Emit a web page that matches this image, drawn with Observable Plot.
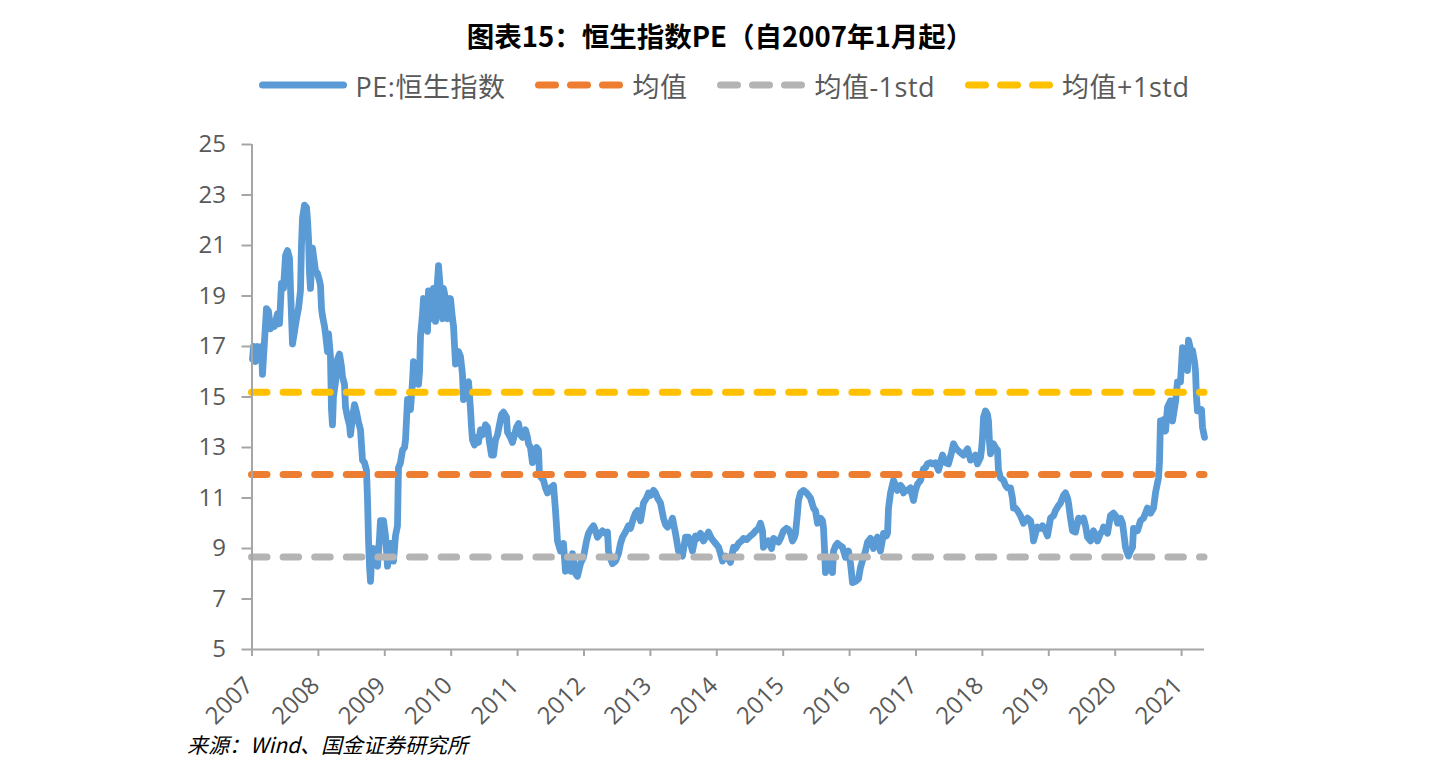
<!DOCTYPE html>
<html>
<head>
<meta charset="utf-8">
<script src="https://cdn.jsdelivr.net/npm/d3@7"></script>
<script src="https://cdn.jsdelivr.net/npm/@observablehq/plot@0.6"></script>
<style>
  html, body { margin: 0; padding: 0; background: #fff; }
  #page { position: relative; width: 1440px; height: 776px; overflow: hidden; }
  #title {
    position: absolute; left: 0; top: 16px; width: 1440px; text-align: center;
    font-family: "Noto Sans CJK SC", sans-serif; font-weight: 700; font-size: 27.5px;
    line-height: 38px; color: #000;
  }
  #legend {
    position: absolute; left: 0; top: 68px; width: 1440px; height: 34px; padding-left: 8px; box-sizing: border-box;
    display: flex; justify-content: center; align-items: center; gap: 30px;
    font-family: "Open Sans", "Noto Sans CJK SC", sans-serif; font-size: 27px; letter-spacing: 0.5px; color: #595959;
  }
  #legend .item { display: flex; align-items: center; gap: 9px; }
  #legend svg { display: block; }
  #chart { position: absolute; left: 0; top: 110px; }
  #caption {
    position: absolute; left: 187px; top: 730px;
    font-family: "Noto Sans CJK SC", sans-serif; font-style: italic; font-size: 21px; line-height: 28px; color: #000;
  }
</style>
</head>
<body>
<div id="page">
  <div id="title">图表15：恒生指数PE（自2007年1月起）</div>
  <div id="legend"></div>
  <div id="chart"></div>
  <div id="caption">来源：Wind、国金证券研究所</div>
</div>
<script>
// Hang Seng Index PE, sampled along the series (time as decimal year)
const years = [
  2007.008, 2007.023, 2007.053, 2007.083, 2007.113, 2007.143, 2007.158, 2007.188, 2007.218, 2007.248,
  2007.279, 2007.309, 2007.339, 2007.384, 2007.414, 2007.444, 2007.474, 2007.505, 2007.535, 2007.565,
  2007.580, 2007.610, 2007.640, 2007.670, 2007.700, 2007.730, 2007.745, 2007.761, 2007.791, 2007.821,
  2007.836, 2007.851, 2007.866, 2007.881, 2007.911, 2007.926, 2007.956, 2007.986,
  2008.017, 2008.032, 2008.047, 2008.062, 2008.092, 2008.107, 2008.137, 2008.152, 2008.182, 2008.197,
  2008.212, 2008.227, 2008.258, 2008.288, 2008.318, 2008.348, 2008.363, 2008.393, 2008.408, 2008.438,
  2008.468, 2008.483, 2008.514, 2008.544, 2008.574, 2008.604, 2008.634, 2008.664, 2008.694, 2008.724,
  2008.739, 2008.755, 2008.770, 2008.785, 2008.800, 2008.830, 2008.860, 2008.890, 2008.920, 2008.935,
  2008.980,
  2009.011, 2009.041, 2009.071, 2009.086, 2009.116, 2009.131, 2009.161, 2009.191, 2009.206, 2009.236,
  2009.267, 2009.297, 2009.312, 2009.342, 2009.372, 2009.387, 2009.417, 2009.432, 2009.462, 2009.477,
  2009.508, 2009.523, 2009.538, 2009.568, 2009.583, 2009.613, 2009.643, 2009.658, 2009.688, 2009.718,
  2009.733, 2009.764, 2009.779, 2009.809, 2009.839, 2009.869, 2009.884, 2009.914, 2009.944, 2009.974,
  2009.989,
  2010.020, 2010.035, 2010.065, 2010.095, 2010.110, 2010.140, 2010.170, 2010.185, 2010.215, 2010.261,
  2010.291, 2010.306, 2010.321, 2010.351, 2010.381, 2010.411, 2010.441, 2010.471, 2010.517, 2010.547,
  2010.577, 2010.607, 2010.637, 2010.667, 2010.697, 2010.727, 2010.758, 2010.788, 2010.833, 2010.848,
  2010.893, 2010.923, 2010.953, 2010.983,
  2011.014, 2011.044, 2011.074, 2011.119, 2011.149, 2011.164, 2011.194, 2011.224, 2011.255, 2011.285,
  2011.315, 2011.330, 2011.360, 2011.390, 2011.420, 2011.450, 2011.495, 2011.541, 2011.571, 2011.601,
  2011.646, 2011.691, 2011.721, 2011.767, 2011.797, 2011.827, 2011.872, 2011.902, 2011.947, 2011.992,
  2012.038, 2012.068, 2012.113, 2012.143, 2012.173, 2012.203, 2012.248, 2012.279, 2012.324, 2012.354,
  2012.369, 2012.399, 2012.429, 2012.474, 2012.520, 2012.550, 2012.580, 2012.625, 2012.670, 2012.700,
  2012.745, 2012.776, 2012.806, 2012.851, 2012.896, 2012.941, 2012.971,
  2013.002, 2013.047, 2013.077, 2013.107, 2013.152, 2013.197, 2013.227, 2013.258, 2013.303, 2013.333,
  2013.378, 2013.423, 2013.453, 2013.483, 2013.529, 2013.574, 2013.604, 2013.634, 2013.679, 2013.709,
  2013.755, 2013.800, 2013.845, 2013.875, 2013.920, 2013.950, 2013.980,
  2014.026, 2014.056, 2014.086, 2014.131, 2014.161, 2014.206, 2014.252, 2014.282, 2014.327, 2014.372,
  2014.402, 2014.447, 2014.508, 2014.553, 2014.583, 2014.628, 2014.658, 2014.688, 2014.703, 2014.749,
  2014.779, 2014.824, 2014.854, 2014.899, 2014.929, 2014.959,
  2015.005, 2015.050, 2015.080, 2015.110, 2015.140, 2015.170, 2015.185, 2015.215, 2015.230, 2015.261,
  2015.306, 2015.351, 2015.381, 2015.411, 2015.456, 2015.486, 2015.517, 2015.562, 2015.592, 2015.607,
  2015.622, 2015.637, 2015.682, 2015.712, 2015.742, 2015.758, 2015.788, 2015.818, 2015.863, 2015.893,
  2015.938, 2015.983,
  2016.014, 2016.044, 2016.089, 2016.134, 2016.164, 2016.209, 2016.239, 2016.270, 2016.315, 2016.360,
  2016.390, 2016.420, 2016.465, 2016.511, 2016.556, 2016.571, 2016.586, 2016.616, 2016.661, 2016.691,
  2016.721, 2016.767, 2016.797, 2016.812, 2016.842, 2016.872, 2016.917, 2016.962, 2016.992,
  2017.023, 2017.068, 2017.113, 2017.143, 2017.173, 2017.218, 2017.248, 2017.294, 2017.339, 2017.369,
  2017.399, 2017.444, 2017.489, 2017.535, 2017.565, 2017.595, 2017.625, 2017.670, 2017.715, 2017.776,
  2017.821, 2017.866, 2017.896, 2017.926, 2017.971, 2017.986,
  2018.002, 2018.017, 2018.047, 2018.077, 2018.092, 2018.107, 2018.122, 2018.167, 2018.197, 2018.227,
  2018.242, 2018.273, 2018.318, 2018.348, 2018.378, 2018.423, 2018.453, 2018.468, 2018.498, 2018.529,
  2018.574, 2018.619, 2018.649, 2018.679, 2018.724, 2018.755, 2018.770, 2018.800, 2018.830, 2018.875,
  2018.905, 2018.950, 2018.980,
  2019.026, 2019.071, 2019.101, 2019.146, 2019.176, 2019.221, 2019.252, 2019.282, 2019.297, 2019.327,
  2019.357, 2019.402, 2019.432, 2019.447, 2019.492, 2019.523, 2019.553, 2019.583, 2019.628, 2019.673,
  2019.703, 2019.733, 2019.779, 2019.809, 2019.824, 2019.854, 2019.884, 2019.929, 2019.974,
  2020.005, 2020.035, 2020.080, 2020.110, 2020.125, 2020.155, 2020.185, 2020.200, 2020.230, 2020.261,
  2020.276, 2020.306, 2020.336, 2020.381, 2020.426, 2020.456, 2020.486, 2020.532, 2020.577, 2020.607,
  2020.652, 2020.667, 2020.682, 2020.712, 2020.727, 2020.758, 2020.788, 2020.833, 2020.863, 2020.908,
  2020.938, 2020.983,
  2021.014, 2021.044, 2021.074, 2021.089, 2021.104, 2021.134, 2021.164, 2021.194, 2021.209, 2021.224,
  2021.239, 2021.285, 2021.300, 2021.315, 2021.345
];
const pe = [
  16.5, 17.0, 16.4, 17.0, 16.8, 17.0, 15.9, 17.2, 18.5, 18.4,
  17.7, 17.9, 17.8, 18.3, 17.9, 19.5, 19.3, 20.6, 20.8, 20.5,
  19.3, 17.1, 17.6, 18.1, 18.5, 19.2, 21.0, 22.1, 22.6, 22.5,
  22.0, 21.3, 19.9, 19.3, 20.9, 20.6, 20.0, 19.9,
  19.6, 19.4, 18.5, 18.2, 17.8, 17.5, 16.8, 17.5, 16.6, 14.5,
  13.9, 15.0, 15.6, 16.5, 16.7, 16.2, 15.8, 15.5, 14.6, 14.2,
  13.9, 13.5, 14.2, 14.7, 14.4, 14.0, 13.7, 12.5, 12.4, 12.1,
  11.0, 9.3, 8.3, 7.7, 8.5, 9.0, 8.6, 8.3, 9.4, 10.1,
  10.1,
  9.5, 8.3, 8.8, 9.2, 8.8, 8.5, 9.5, 9.9, 12.2, 12.4,
  12.9, 13.0, 13.3, 14.9, 14.7, 14.5, 15.6, 16.4, 16.2, 16.1,
  15.5, 16.0, 17.4, 18.3, 18.9, 18.0, 17.6, 19.2, 18.6, 18.1,
  19.3, 18.0, 19.0, 20.2, 19.2, 18.1, 19.3, 18.9, 18.1, 18.5,
  18.9,
  18.1, 17.8, 16.3, 16.6, 16.8, 16.6, 15.9, 14.9, 15.5, 15.6,
  14.5, 13.8, 13.3, 13.1, 13.4, 13.2, 13.7, 13.5, 13.9, 13.8,
  13.2, 12.7, 12.7, 13.3, 13.5, 13.9, 14.3, 14.4, 14.2, 13.6,
  13.4, 13.2, 13.5, 13.8,
  13.95, 13.5, 13.4, 13.7, 13.4, 13.15, 13.0, 12.4, 12.9, 13.0,
  12.9, 11.9, 11.8, 11.7, 11.4, 11.2, 11.4, 11.5, 10.5, 9.3,
  8.9, 9.2, 8.1, 8.2, 8.1, 8.8, 8.0, 7.9, 8.4, 8.65,
  9.3, 9.6, 9.8, 9.9, 9.7, 9.45, 9.6, 9.7, 9.6, 9.65,
  8.9, 8.6, 8.4, 8.5, 8.8, 9.2, 9.45, 9.65, 9.9, 9.8,
  10.2, 10.4, 10.5, 10.1, 10.8, 11.0, 11.2,
  11.1, 11.3, 11.2, 11.0, 10.8, 10.2, 9.95, 9.85, 10.0, 10.2,
  9.6, 8.9, 8.8, 8.7, 9.45, 9.45, 9.2, 8.9, 9.5, 9.4,
  9.6, 9.3, 9.5, 9.65, 9.4, 9.3, 9.2,
  9.05, 8.8, 8.5, 8.7, 8.65, 8.45, 9.05, 9.0, 9.2, 9.3,
  9.4, 9.35, 9.5, 9.6, 9.7, 9.8, 10.0, 9.7, 9.05, 9.2,
  9.3, 9.0, 9.4, 9.3, 9.25, 9.4,
  9.7, 9.8, 9.75, 9.6, 9.3, 9.45, 9.6, 10.4, 10.9, 11.2,
  11.3, 11.2, 11.1, 11.0, 10.6, 10.5, 10.0, 10.2, 10.1, 9.8,
  9.0, 8.05, 8.3, 8.65, 8.05, 8.9, 9.1, 9.2, 9.1, 9.05,
  8.65, 8.9,
  8.4, 7.65, 7.7, 7.8, 8.25, 8.65, 8.9, 9.25, 9.4, 9.0,
  9.3, 9.45, 8.9, 9.6, 9.5, 9.6, 10.6, 11.2, 11.7, 11.5,
  11.3, 11.5, 11.4, 11.2, 11.3, 11.3, 11.4, 10.9, 11.3,
  11.55, 11.7, 12.15, 12.2, 12.35, 12.4, 12.35, 12.4, 12.1, 12.4,
  12.7, 12.4, 12.35, 12.8, 13.15, 13.0, 12.9, 12.8, 12.7, 12.95,
  12.5, 12.55, 12.7, 12.35, 12.6, 12.9,
  13.4, 14.2, 14.45, 14.3, 14.05, 13.2, 12.75, 13.15, 13.0, 12.9,
  12.1, 11.8, 11.7, 11.5, 11.4, 11.4, 11.0, 10.6, 10.6, 10.5,
  10.3, 10.0, 10.1, 10.2, 10.1, 9.7, 9.3, 9.6, 9.85, 9.8,
  9.9, 9.7, 9.5,
  10.2, 10.3, 10.5, 10.7, 10.8, 11.1, 11.2, 11.0, 10.8, 10.2,
  9.7, 9.65, 10.0, 10.2, 10.1, 10.2, 9.9, 9.45, 9.3, 9.7,
  9.5, 9.3, 9.6, 9.7, 9.85, 9.8, 9.6, 10.3, 10.4,
  10.3, 10.0, 10.2, 10.0, 9.7, 9.05, 8.8, 8.7, 8.9, 9.05,
  9.8, 9.7, 9.7, 10.1, 10.2, 10.4, 10.6, 10.4, 10.6, 11.2,
  11.8, 12.4, 14.05, 13.9, 14.1, 13.65, 14.6, 14.85, 14.05, 14.8,
  15.6, 15.6,
  16.95, 16.8, 16.5, 16.05, 17.25, 16.9, 16.85, 16.4, 16.05, 15.0,
  14.45, 14.45, 14.5, 13.8, 13.4
];

// Reference levels: mean and mean ± one standard deviation
const levelNames = ["均值", "均值-1std", "均值+1std"];
const levelValues = [11.93, 8.66, 15.19];
const levelColors = ["#ED7D31", "#B4B4B4", "#FFC000"];

const seriesName = "PE:恒生指数";
const seriesColor = "#5B9BD5";

const yTicks = [5, 7, 9, 11, 13, 15, 17, 19, 21, 23, 25];
const xTicks = [2007, 2008, 2009, 2010, 2011, 2012, 2013, 2014, 2015, 2016, 2017, 2018, 2019, 2020, 2021];

const series = years.map((t, i) => ({t, pe: pe[i]}));
const levels = levelNames.map((name, i) => ({name, value: levelValues[i], color: levelColors[i]}));

const axisGray = "#A6A6A6";
const textGray = "#595959";

// Legend: solid swatch for the PE series, dashed swatches for the reference levels
const legend = document.getElementById("legend");
function addLegendItem(label, color, dashed) {
  const item = document.createElement("div");
  item.className = "item";
  const sw = d3.create("svg").attr("width", 88).attr("height", 12);
  sw.append("line")
    .attr("x1", 3.5).attr("x2", 84.5).attr("y1", 6).attr("y2", 6)
    .attr("stroke", color).attr("stroke-width", 7).attr("stroke-linecap", "round")
    .attr("stroke-dasharray", dashed ? "17,15" : null);
  item.appendChild(sw.node());
  const span = document.createElement("span");
  span.textContent = label;
  item.appendChild(span);
  legend.appendChild(item);
}
addLegendItem(seriesName, seriesColor, false);
levels.forEach(d => addLegendItem(d.name, d.color, true));

const chart = Plot.plot({
  width: 1440,
  height: 629,
  marginTop: 34,
  marginLeft: 251.5,
  marginRight: 236,
  marginBottom: 90,
  style: {fontFamily: "'Open Sans', 'Noto Sans CJK SC', sans-serif", background: "transparent", color: textGray},
  x: {type: "linear", domain: [2007, 2021.345]},
  y: {domain: [5, 25]},
  marks: [
    Plot.line(series, {
      x: "t", y: "pe", stroke: seriesColor, strokeWidth: 6.8,
      strokeLinejoin: "round", strokeLinecap: "round"
    }),
    Plot.ruleY(levels, {
      y: "value", stroke: "color", strokeWidth: 7,
      strokeDasharray: "15.5,16.1", strokeLinecap: "round"
    }),
    Plot.ruleX([2007], {stroke: axisGray, strokeWidth: 2}),
    Plot.ruleY([5], {stroke: axisGray, strokeWidth: 2}),
    Plot.axisY(yTicks, {
      tickSize: 10, tickPadding: 16, stroke: axisGray, strokeWidth: 2,
      fill: textGray, fontSize: 24, label: null
    }),
    // year tick marks below the axis line
    Plot.axisX(xTicks, {
      tickSize: 7, stroke: axisGray, strokeWidth: 2, label: null, tickFormat: () => ""
    }),
    // rotated year labels
    Plot.axisX(xTicks, {
      tickSize: 0, tickPadding: 13, tickRotate: -45,
      fill: textGray, fontSize: 24, label: null, tickFormat: d => String(d),
      dx: -3, dy: 19
    })
  ]
});
document.getElementById("chart").appendChild(chart);
</script>
</body>
</html>
